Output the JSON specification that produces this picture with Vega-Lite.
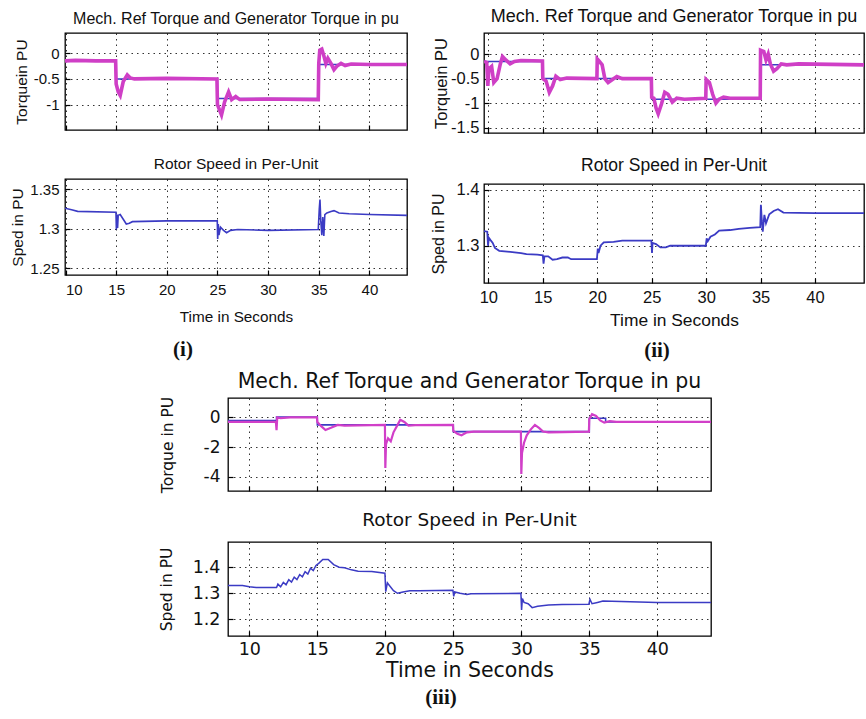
{
  "$schema": "https://vega.github.io/schema/vega-lite/v6.json",
  "autosize": {"type": "none"},
  "padding": {"left": 65, "top": 33, "right": 801, "bottom": 686},
  "background": "white",
  "config": {
    "view": {"stroke": "#000", "strokeWidth": 1.3},
    "axis": {"domain": false, "grid": true, "gridColor": "#000", "gridDash": [1.5, 4], "gridOpacity": 0.8, "gridWidth": 1, "tickColor": "#000", "tickSize": -5, "tickWidth": 1.2, "labelColor": "#111", "titleColor": "#111", "titleFontWeight": "normal", "labelFont": "Liberation Sans", "titleFont": "Liberation Sans"},
    "title": {"fontWeight": "normal", "color": "#111"}
  },
  "datasets": {
    "i_ref": [{"t": 9.95, "v": -0.15}, {"t": 15, "v": -0.5}, {"t": 25, "v": -0.88}, {"t": 35, "v": -0.22}, {"t": 43.71, "v": -0.22}],
    "i_gen": [{"t": 9.95, "v": -0.15}, {"t": 11, "v": -0.14}, {"t": 13, "v": -0.15}, {"t": 14.95, "v": -0.15}, {"t": 15.0, "v": -0.6}, {"t": 15.2, "v": -0.75}, {"t": 15.4, "v": -0.82}, {"t": 15.7, "v": -0.55}, {"t": 16.1, "v": -0.42}, {"t": 16.4, "v": -0.48}, {"t": 16.8, "v": -0.5}, {"t": 20, "v": -0.49}, {"t": 24.95, "v": -0.5}, {"t": 25.0, "v": -1.0}, {"t": 25.2, "v": -1.1}, {"t": 25.4, "v": -1.2}, {"t": 25.7, "v": -0.95}, {"t": 26.1, "v": -0.75}, {"t": 26.4, "v": -0.9}, {"t": 26.8, "v": -0.84}, {"t": 27.2, "v": -0.9}, {"t": 30, "v": -0.89}, {"t": 34.95, "v": -0.9}, {"t": 35.0, "v": -0.2}, {"t": 35.1, "v": 0.06}, {"t": 35.3, "v": 0.08}, {"t": 35.5, "v": -0.05}, {"t": 35.7, "v": -0.2}, {"t": 35.9, "v": -0.1}, {"t": 36.2, "v": -0.2}, {"t": 36.5, "v": -0.32}, {"t": 36.8, "v": -0.25}, {"t": 37.2, "v": -0.2}, {"t": 37.6, "v": -0.24}, {"t": 38.2, "v": -0.21}, {"t": 40, "v": -0.22}, {"t": 43.71, "v": -0.22}],
    "i_spd": [{"t": 9.95, "v": 1.326}, {"t": 10.6, "v": 1.324}, {"t": 11.2, "v": 1.322}, {"t": 14.98, "v": 1.321}, {"t": 15.02, "v": 1.299}, {"t": 15.08, "v": 1.318}, {"t": 15.14, "v": 1.301}, {"t": 15.2, "v": 1.317}, {"t": 15.4, "v": 1.318}, {"t": 15.7, "v": 1.312}, {"t": 16.0, "v": 1.306}, {"t": 16.3, "v": 1.307}, {"t": 16.6, "v": 1.309}, {"t": 20, "v": 1.31}, {"t": 24.98, "v": 1.31}, {"t": 25.02, "v": 1.287}, {"t": 25.08, "v": 1.306}, {"t": 25.15, "v": 1.292}, {"t": 25.3, "v": 1.302}, {"t": 25.6, "v": 1.298}, {"t": 25.9, "v": 1.295}, {"t": 26.3, "v": 1.298}, {"t": 27, "v": 1.299}, {"t": 30, "v": 1.298}, {"t": 34.95, "v": 1.299}, {"t": 35.05, "v": 1.325}, {"t": 35.12, "v": 1.337}, {"t": 35.2, "v": 1.31}, {"t": 35.3, "v": 1.292}, {"t": 35.4, "v": 1.315}, {"t": 35.5, "v": 1.291}, {"t": 35.6, "v": 1.318}, {"t": 35.8, "v": 1.32}, {"t": 36.2, "v": 1.322}, {"t": 36.5, "v": 1.323}, {"t": 37, "v": 1.32}, {"t": 38, "v": 1.319}, {"t": 40, "v": 1.318}, {"t": 43.71, "v": 1.317}],
    "ii_ref": [{"t": 9.6, "v": -0.15}, {"t": 15, "v": -0.5}, {"t": 25, "v": -0.92}, {"t": 35, "v": -0.22}, {"t": 44.5, "v": -0.22}],
    "ii_gen": [{"t": 9.6, "v": -0.15}, {"t": 9.85, "v": -0.17}, {"t": 9.95, "v": -0.65}, {"t": 10.05, "v": -0.3}, {"t": 10.3, "v": -0.25}, {"t": 10.5, "v": -0.58}, {"t": 10.8, "v": -0.5}, {"t": 11.1, "v": -0.2}, {"t": 11.3, "v": -0.05}, {"t": 11.6, "v": -0.12}, {"t": 12, "v": -0.2}, {"t": 12.4, "v": -0.15}, {"t": 13, "v": -0.13}, {"t": 14.97, "v": -0.14}, {"t": 15.0, "v": -0.5}, {"t": 15.3, "v": -0.55}, {"t": 15.6, "v": -0.78}, {"t": 15.9, "v": -0.65}, {"t": 16.2, "v": -0.45}, {"t": 16.6, "v": -0.52}, {"t": 17.2, "v": -0.49}, {"t": 19.97, "v": -0.5}, {"t": 20.0, "v": -0.1}, {"t": 20.2, "v": -0.15}, {"t": 20.45, "v": -0.22}, {"t": 20.7, "v": -0.5}, {"t": 21.0, "v": -0.58}, {"t": 21.4, "v": -0.52}, {"t": 21.8, "v": -0.46}, {"t": 22.3, "v": -0.5}, {"t": 24.97, "v": -0.5}, {"t": 25.0, "v": -0.88}, {"t": 25.2, "v": -0.9}, {"t": 25.4, "v": -1.1}, {"t": 25.6, "v": -1.22}, {"t": 25.9, "v": -1.02}, {"t": 26.2, "v": -0.78}, {"t": 26.5, "v": -0.82}, {"t": 26.9, "v": -0.98}, {"t": 27.3, "v": -0.9}, {"t": 28, "v": -0.92}, {"t": 29.97, "v": -0.9}, {"t": 30.0, "v": -0.52}, {"t": 30.3, "v": -0.58}, {"t": 30.6, "v": -0.82}, {"t": 30.9, "v": -1.0}, {"t": 31.2, "v": -0.92}, {"t": 31.6, "v": -0.88}, {"t": 32.2, "v": -0.9}, {"t": 34.97, "v": -0.9}, {"t": 35.0, "v": 0.08}, {"t": 35.3, "v": 0.05}, {"t": 35.5, "v": -0.12}, {"t": 35.7, "v": 0.0}, {"t": 35.9, "v": -0.2}, {"t": 36.2, "v": -0.35}, {"t": 36.5, "v": -0.3}, {"t": 36.9, "v": -0.2}, {"t": 37.4, "v": -0.22}, {"t": 38.5, "v": -0.2}, {"t": 44.5, "v": -0.22}],
    "ii_spd": [{"t": 9.6, "v": 1.326}, {"t": 9.9, "v": 1.325}, {"t": 9.97, "v": 1.3}, {"t": 10.05, "v": 1.314}, {"t": 10.2, "v": 1.31}, {"t": 10.4, "v": 1.305}, {"t": 10.6, "v": 1.296}, {"t": 11, "v": 1.291}, {"t": 12, "v": 1.289}, {"t": 13, "v": 1.287}, {"t": 13.5, "v": 1.285}, {"t": 14.5, "v": 1.284}, {"t": 15.0, "v": 1.283}, {"t": 15.07, "v": 1.268}, {"t": 15.15, "v": 1.281}, {"t": 15.5, "v": 1.281}, {"t": 15.9, "v": 1.275}, {"t": 16.3, "v": 1.276}, {"t": 16.8, "v": 1.279}, {"t": 17.3, "v": 1.279}, {"t": 17.6, "v": 1.276}, {"t": 19.97, "v": 1.276}, {"t": 20.05, "v": 1.295}, {"t": 20.12, "v": 1.287}, {"t": 20.3, "v": 1.3}, {"t": 20.6, "v": 1.306}, {"t": 21.5, "v": 1.307}, {"t": 22.3, "v": 1.309}, {"t": 24.97, "v": 1.309}, {"t": 25.03, "v": 1.287}, {"t": 25.08, "v": 1.305}, {"t": 25.4, "v": 1.303}, {"t": 25.8, "v": 1.297}, {"t": 26.3, "v": 1.297}, {"t": 26.7, "v": 1.3}, {"t": 29.97, "v": 1.3}, {"t": 30.05, "v": 1.313}, {"t": 30.15, "v": 1.308}, {"t": 30.4, "v": 1.316}, {"t": 30.8, "v": 1.32}, {"t": 31.2, "v": 1.327}, {"t": 32.2, "v": 1.328}, {"t": 33, "v": 1.33}, {"t": 34, "v": 1.332}, {"t": 34.97, "v": 1.333}, {"t": 35.03, "v": 1.373}, {"t": 35.1, "v": 1.35}, {"t": 35.2, "v": 1.325}, {"t": 35.35, "v": 1.355}, {"t": 35.5, "v": 1.34}, {"t": 35.8, "v": 1.356}, {"t": 36.2, "v": 1.362}, {"t": 36.6, "v": 1.365}, {"t": 37.1, "v": 1.359}, {"t": 40, "v": 1.358}, {"t": 44.5, "v": 1.358}],
    "iii_ref": [{"t": 8.43, "v": -0.2}, {"t": 12, "v": 0.02}, {"t": 15, "v": -0.5}, {"t": 25, "v": -0.95}, {"t": 35, "v": -0.05}, {"t": 36.2, "v": -0.3}, {"t": 43.95, "v": -0.3}],
    "iii_gen": [{"t": 8.43, "v": -0.3}, {"t": 11.95, "v": -0.3}, {"t": 12.0, "v": -0.85}, {"t": 12.05, "v": 0.0}, {"t": 12.3, "v": -0.05}, {"t": 13, "v": 0.0}, {"t": 14.97, "v": 0.0}, {"t": 15.0, "v": -0.3}, {"t": 15.3, "v": -0.6}, {"t": 15.6, "v": -0.85}, {"t": 16.0, "v": -0.7}, {"t": 16.5, "v": -0.5}, {"t": 17, "v": -0.55}, {"t": 19.97, "v": -0.5}, {"t": 20.0, "v": -3.4}, {"t": 20.05, "v": -1.8}, {"t": 20.2, "v": -1.4}, {"t": 20.4, "v": -1.6}, {"t": 20.6, "v": -1.0}, {"t": 20.9, "v": -0.5}, {"t": 21.1, "v": -0.15}, {"t": 21.4, "v": -0.3}, {"t": 21.7, "v": -0.55}, {"t": 22.2, "v": -0.52}, {"t": 24.97, "v": -0.5}, {"t": 25.0, "v": -0.9}, {"t": 25.3, "v": -1.1}, {"t": 25.6, "v": -1.2}, {"t": 26, "v": -1.0}, {"t": 26.5, "v": -0.95}, {"t": 29.97, "v": -0.95}, {"t": 30.0, "v": -3.8}, {"t": 30.05, "v": -2.4}, {"t": 30.2, "v": -1.7}, {"t": 30.4, "v": -1.2}, {"t": 30.7, "v": -0.8}, {"t": 31.0, "v": -0.5}, {"t": 31.3, "v": -0.7}, {"t": 31.6, "v": -0.95}, {"t": 32, "v": -1.0}, {"t": 34.97, "v": -0.95}, {"t": 35.0, "v": -0.1}, {"t": 35.2, "v": 0.22}, {"t": 35.5, "v": 0.1}, {"t": 35.8, "v": -0.2}, {"t": 36.1, "v": -0.35}, {"t": 36.5, "v": -0.25}, {"t": 37, "v": -0.3}, {"t": 43.95, "v": -0.3}],
    "iii_spd": [{"t": 8.43, "v": 1.33}, {"t": 9.5, "v": 1.33}, {"t": 10, "v": 1.325}, {"t": 10.5, "v": 1.322}, {"t": 12, "v": 1.322}, {"t": 12.1, "v": 1.335}, {"t": 12.3, "v": 1.325}, {"t": 12.5, "v": 1.342}, {"t": 12.7, "v": 1.333}, {"t": 12.9, "v": 1.352}, {"t": 13.1, "v": 1.343}, {"t": 13.3, "v": 1.362}, {"t": 13.5, "v": 1.353}, {"t": 13.7, "v": 1.372}, {"t": 13.9, "v": 1.363}, {"t": 14.1, "v": 1.383}, {"t": 14.3, "v": 1.374}, {"t": 14.5, "v": 1.396}, {"t": 14.7, "v": 1.387}, {"t": 14.9, "v": 1.407}, {"t": 15.1, "v": 1.415}, {"t": 15.4, "v": 1.43}, {"t": 15.8, "v": 1.43}, {"t": 16.2, "v": 1.41}, {"t": 16.6, "v": 1.4}, {"t": 17, "v": 1.398}, {"t": 17.5, "v": 1.39}, {"t": 18, "v": 1.385}, {"t": 19, "v": 1.384}, {"t": 19.97, "v": 1.377}, {"t": 20.03, "v": 1.306}, {"t": 20.15, "v": 1.34}, {"t": 20.3, "v": 1.33}, {"t": 20.6, "v": 1.31}, {"t": 20.9, "v": 1.3}, {"t": 21.3, "v": 1.305}, {"t": 21.8, "v": 1.31}, {"t": 22.5, "v": 1.31}, {"t": 24.97, "v": 1.312}, {"t": 25.03, "v": 1.288}, {"t": 25.1, "v": 1.305}, {"t": 25.5, "v": 1.3}, {"t": 26.0, "v": 1.295}, {"t": 26.3, "v": 1.298}, {"t": 29.97, "v": 1.3}, {"t": 30.02, "v": 1.236}, {"t": 30.08, "v": 1.28}, {"t": 30.2, "v": 1.265}, {"t": 30.5, "v": 1.26}, {"t": 30.8, "v": 1.245}, {"t": 31.2, "v": 1.25}, {"t": 32, "v": 1.255}, {"t": 33, "v": 1.257}, {"t": 34.97, "v": 1.258}, {"t": 35.05, "v": 1.277}, {"t": 35.2, "v": 1.26}, {"t": 35.6, "v": 1.265}, {"t": 36, "v": 1.27}, {"t": 38, "v": 1.268}, {"t": 40, "v": 1.265}, {"t": 43.95, "v": 1.265}]
  },
  "bounds": "full",
  "spacing": 10,
  "vconcat": [
    {
      "bounds": "full",
      "spacing": 21,
      "hconcat": [
        {
          "bounds": "flush",
          "spacing": 49,
          "title": {"text": "(i)", "orient": "bottom", "font": "Liberation Serif", "fontSize": 21, "fontWeight": "bold", "anchor": "middle", "frame": "group", "dx": 118, "offset": 14, "color": "#111"},
          "vconcat": [
            {
              "width": 342, "height": 97,
              "title": {"text": "Mech. Ref Torque and Generator Torque in pu", "font": "Liberation Sans", "fontSize": 16, "offset": 6, "frame": "group"},
              "encoding": {
                "x": {"field": "t", "type": "quantitative", "scale": {"domain": [9.95, 43.71], "nice": false, "zero": false}, "axis": {"values": [10, 15, 20, 25, 30, 35, 40], "labels": false, "title": null}},
                "y": {"field": "v", "type": "quantitative", "scale": {"domain": [-1.49, 0.39], "nice": false, "zero": false}, "axis": {"values": [-1, -0.5, 0], "labelExpr": "'' + datum.value", "labelFontSize": 15, "labelPadding": 11, "title": "Torquein PU", "titleFontSize": 15.5, "titlePadding": 4}}
              },
              "layer": [
                {"data": {"name": "i_ref"}, "mark": {"type": "line", "interpolate": "step-after", "color": "#3b3bc4", "strokeWidth": 1.5, "clip": true}},
                {"data": {"name": "i_gen"}, "mark": {"type": "line", "color": "#cf3fc6", "strokeWidth": 3.6, "clip": true}}
              ]
            },
            {
              "width": 342, "height": 96,
              "title": {"text": "Rotor Speed in Per-Unit", "font": "Liberation Sans", "fontSize": 15.5, "offset": 7, "frame": "group"},
              "data": {"name": "i_spd"},
              "mark": {"type": "line", "color": "#3b3bc4", "strokeWidth": 1.6, "clip": true},
              "encoding": {
                "x": {"field": "t", "type": "quantitative", "scale": {"domain": [9.95, 43.71], "nice": false, "zero": false}, "axis": {"values": [10, 15, 20, 25, 30, 35, 40], "labelExpr": "'' + datum.value", "labelFontSize": 15, "labelPadding": 12, "title": "Time in Seconds", "titleFontSize": 15.3, "titlePadding": 12}},
                "y": {"field": "v", "type": "quantitative", "scale": {"domain": [1.2415, 1.363], "nice": false, "zero": false}, "axis": {"values": [1.25, 1.3, 1.35], "labelExpr": "'' + datum.value", "labelFontSize": 15, "labelPadding": 11, "title": "Sped in PU", "titleFontSize": 15.5, "titlePadding": 4}}
              }
            }
          ]
        },
        {
          "bounds": "flush",
          "spacing": 51,
          "title": {"text": "(ii)", "orient": "bottom", "font": "Liberation Serif", "fontSize": 21, "fontWeight": "bold", "anchor": "middle", "frame": "group", "dx": 173, "offset": 10, "color": "#111"},
          "vconcat": [
            {
              "width": 380, "height": 100,
              "title": {"text": "Mech. Ref Torque and Generator Torque in pu", "font": "Liberation Sans", "fontSize": 18, "offset": 7, "frame": "group"},
              "encoding": {
                "x": {"field": "t", "type": "quantitative", "scale": {"domain": [9.6, 44.5], "nice": false, "zero": false}, "axis": {"values": [10, 15, 20, 25, 30, 35, 40], "labels": false, "title": null}},
                "y": {"field": "v", "type": "quantitative", "scale": {"domain": [-1.61, 0.43], "nice": false, "zero": false}, "axis": {"values": [-1.5, -1, -0.5, 0], "labelExpr": "'' + datum.value", "labelFontSize": 16.5, "labelPadding": 10, "title": "Torquein PU", "titleFontSize": 16.5, "titlePadding": 1}}
              },
              "layer": [
                {"data": {"name": "ii_ref"}, "mark": {"type": "line", "interpolate": "step-after", "color": "#3b3bc4", "strokeWidth": 1.5, "clip": true}},
                {"data": {"name": "ii_gen"}, "mark": {"type": "line", "color": "#cf3fc6", "strokeWidth": 3.6, "clip": true}}
              ]
            },
            {
              "width": 380, "height": 99,
              "title": {"text": "Rotor Speed in Per-Unit", "font": "Liberation Sans", "fontSize": 17.5, "offset": 7, "frame": "group"},
              "data": {"name": "ii_spd"},
              "mark": {"type": "line", "color": "#3b3bc4", "strokeWidth": 1.8, "clip": true},
              "encoding": {
                "x": {"field": "t", "type": "quantitative", "scale": {"domain": [9.6, 44.5], "nice": false, "zero": false}, "axis": {"values": [10, 15, 20, 25, 30, 35, 40], "labelExpr": "'' + datum.value", "labelFontSize": 16.5, "labelPadding": 11, "title": "Time in Seconds", "titleFontSize": 17.4, "titlePadding": 6}},
                "y": {"field": "v", "type": "quantitative", "scale": {"domain": [1.2336, 1.41], "nice": false, "zero": false}, "axis": {"values": [1.3, 1.4], "labelExpr": "'' + datum.value", "labelFontSize": 16.5, "labelPadding": 10, "title": "Sped in PU", "titleFontSize": 16, "titlePadding": 10}}
              }
            }
          ]
        }
      ]
    },
    {
      "bounds": "full",
      "spacing": 0,
      "hconcat": [
        {"width": 93, "height": 10, "view": {"stroke": null}, "data": {"values": []}, "mark": "point"},
        {
          "bounds": "flush",
          "spacing": 51,
          "title": {"text": "(iii)", "orient": "bottom", "font": "Liberation Serif", "fontSize": 21, "fontWeight": "bold", "anchor": "middle", "frame": "group", "dx": 213, "offset": 5, "color": "#111"},
          "vconcat": [
            {
              "width": 483, "height": 93,
              "title": {"text": "Mech. Ref Torque and Generator Torque in pu", "font": "DejaVu Sans", "fontSize": 20.5, "offset": 4, "frame": "group"},
              "encoding": {
                "x": {"field": "t", "type": "quantitative", "scale": {"domain": [8.43, 43.95], "nice": false, "zero": false}, "axis": {"values": [10, 15, 20, 25, 30, 35, 40], "labels": false, "title": null}},
                "y": {"field": "v", "type": "quantitative", "scale": {"domain": [-4.95, 1.31], "nice": false, "zero": false}, "axis": {"values": [-4, -2, 0], "labelExpr": "'' + datum.value", "labelFont": "DejaVu Sans", "labelFontSize": 17, "labelPadding": 13, "title": "Torque in PU", "titleFont": "DejaVu Sans", "titleFontSize": 15.5, "titlePadding": 28}}
              },
              "layer": [
                {"data": {"name": "iii_ref"}, "mark": {"type": "line", "interpolate": "step-after", "color": "#3b3bc4", "strokeWidth": 1.6, "clip": true}},
                {"data": {"name": "iii_gen"}, "mark": {"type": "line", "color": "#d13fc8", "strokeWidth": 2.2, "clip": true}}
              ]
            },
            {
              "width": 483, "height": 94,
              "title": {"text": "Rotor Speed in Per-Unit", "font": "DejaVu Sans", "fontSize": 18.5, "offset": 13, "frame": "group"},
              "data": {"name": "iii_spd"},
              "mark": {"type": "line", "color": "#3b3bc4", "strokeWidth": 1.5, "clip": true},
              "encoding": {
                "x": {"field": "t", "type": "quantitative", "scale": {"domain": [8.43, 43.95], "nice": false, "zero": false}, "axis": {"values": [10, 15, 20, 25, 30, 35, 40], "labelExpr": "'' + datum.value", "labelFont": "DejaVu Sans", "labelFontSize": 17.5, "labelPadding": 9, "title": "Time in Seconds", "titleFont": "DejaVu Sans", "titleFontSize": 20.5, "titlePadding": 3}},
                "y": {"field": "v", "type": "quantitative", "scale": {"domain": [1.136, 1.497], "nice": false, "zero": false}, "axis": {"values": [1.2, 1.3, 1.4], "labelExpr": "'' + datum.value", "labelFont": "DejaVu Sans", "labelFontSize": 17.5, "labelPadding": 13, "title": "Sped in PU", "titleFont": "DejaVu Sans", "titleFontSize": 15.5, "titlePadding": 18}}
              }
            }
          ]
        }
      ]
    }
  ]
}
